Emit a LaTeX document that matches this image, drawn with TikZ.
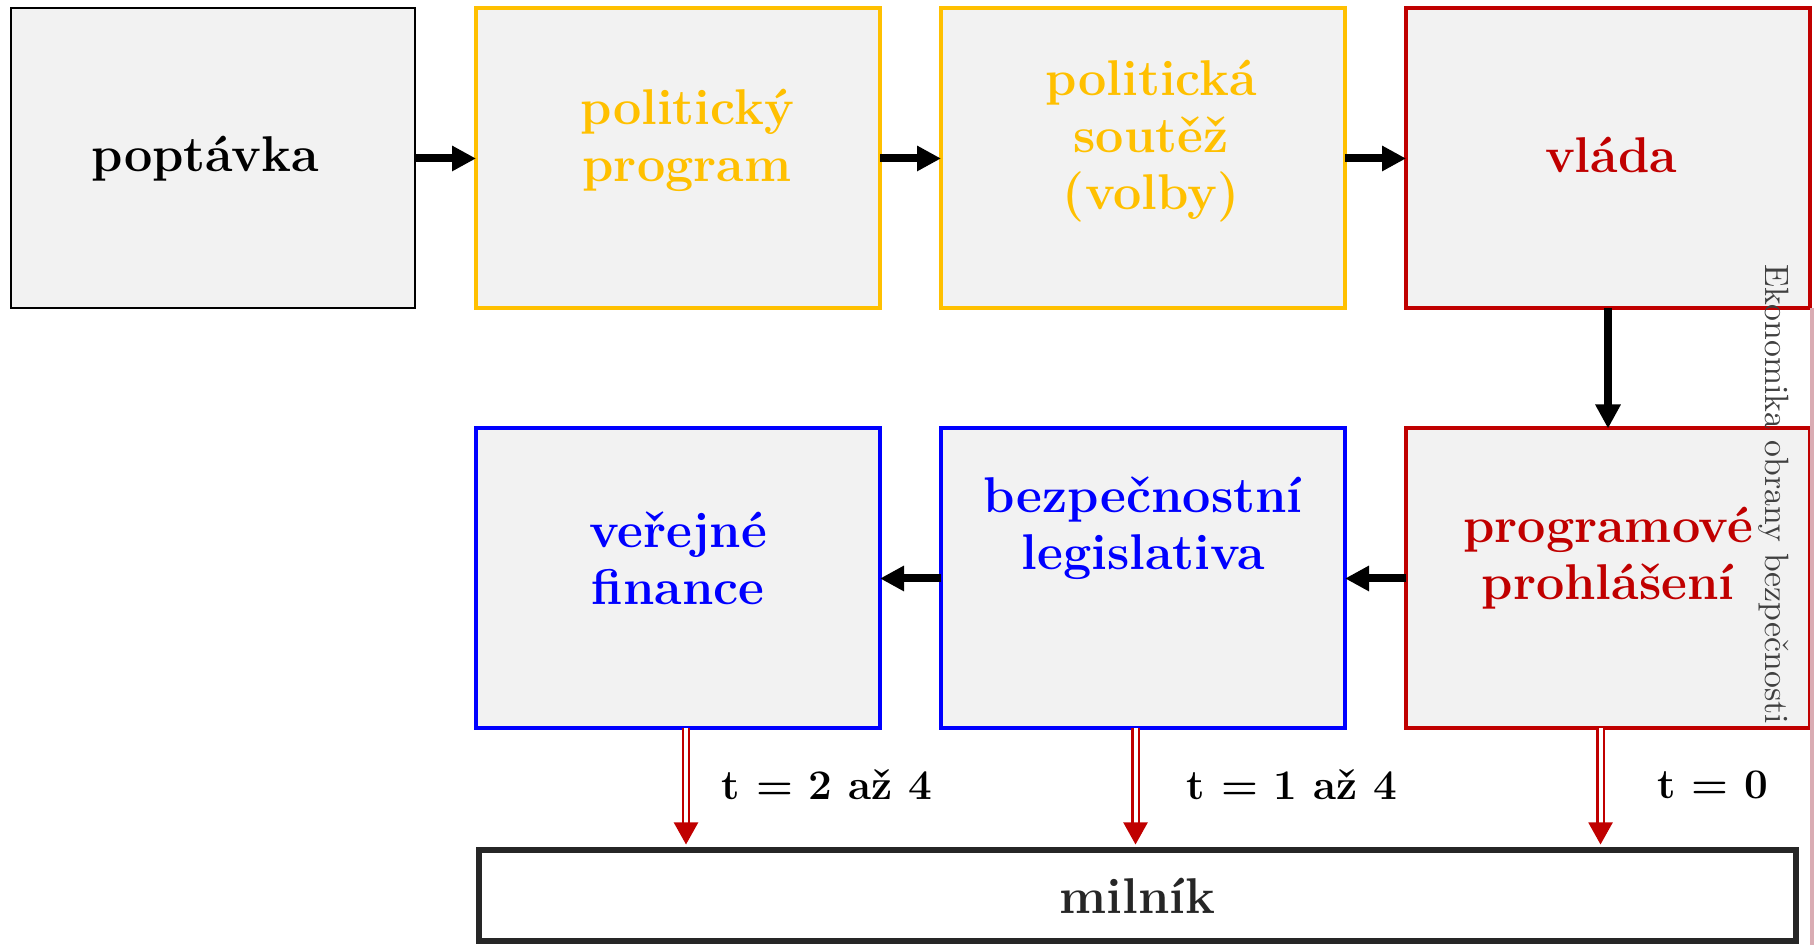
\documentclass[tikz,border=0pt]{standalone}
\usepackage{fontspec}
\usepackage{tikz}
\usetikzlibrary{arrows.meta,positioning}
\definecolor{boxfill}{HTML}{F2F2F2}
\definecolor{gold}{HTML}{FFC000}
\definecolor{dred}{HTML}{C00000}
\definecolor{dgray}{HTML}{262626}
\definecolor{pinkline}{HTML}{D9ACB3}
\tikzstyle{block} = [rectangle, draw, fill=boxfill, line width=0.4mm,
    minimum width=40.4mm, minimum height=30mm, outer sep=0pt]
\tikzstyle{txt} = [align=center, font=\bfseries\fontsize{14.3}{16.2}\selectfont]
\tikzstyle{arr} = [-{Triangle[length=2.4mm,width=2.4mm]}, line width=0.8mm]
\tikzstyle{dbl} = [-{Triangle[length=2.2mm,width=2.4mm]}, draw=dred, shorten >=0.3mm,
    line width=0.22mm, double=white, double distance=0.4mm]
\tikzstyle{tlab} = [font=\bfseries\fontsize{12}{14}\selectfont]

\begin{document}
\begin{tikzpicture}[node distance=6.1mm]
  \useasboundingbox (0,0) rectangle (181.4mm,94.5mm);
  \node[block, line width=0.2mm] (pop) at (21.3mm,78.65mm) {};
  \node[block, draw=gold] (prog) [right=of pop] {};
  \node[block, draw=gold] (sout) [right=of prog] {};
  \node[block, draw=dred] (vlada) [right=of sout] {};
  \node[block, draw=dred] (prohl) [below=12mm of vlada] {};
  \node[block, draw=blue] (leg) [left=of prohl] {};
  \node[block, draw=blue] (fin) [left=of leg] {};
  \node[rectangle, draw=dgray, line width=0.6mm, minimum width=131.7mm, minimum height=9.1mm,
        anchor=north west, txt, text=dgray] (mil) at ([yshift=-11.9mm]fin.south west) {milník};

  \draw[pinkline, line width=0.45mm] ([xshift=0.25mm]vlada.south east) -- ([xshift=0.25mm]vlada.south east |- 0,0);

  \node[txt] (tpop) at ([xshift=-0.8mm]pop.center) {poptávka};
  \node[txt, text=gold] (tprog) at ([xshift=0.9mm,yshift=1.8mm]prog.center) {politický\\program};
  \node[txt, text=gold] (tsout) at ([xshift=0.8mm,yshift=1.75mm]sout.center) {politická\\soutěž\\(volby)};
  \node[txt, text=dred] (tvlada) at ([xshift=0.3mm,yshift=0.4mm]vlada.center) {vláda};
  \node[txt, text=dred] (tprohl) at ([yshift=2mm]prohl.center) {programové\\prohlášení};
  \node[txt, text=blue] (tleg) at ([yshift=5mm]leg.center) {bezpečnostní\\legislativa};
  \node[txt, text=blue] (tfin) at ([yshift=2mm]fin.center) {veřejné\\finance};

  \draw[arr] (pop) -- (prog);
  \draw[arr] (prog) -- (sout);
  \draw[arr] (sout) -- (vlada);
  \draw[arr] (vlada) -- (prohl);
  \draw[arr] (prohl) -- (leg);
  \draw[arr] (leg) -- (fin);

  \draw[dbl] ([xshift=0.8mm]fin.south) -- ([xshift=0.8mm]fin.south |- mil.north);
  \draw[dbl] ([xshift=-0.75mm]leg.south) -- ([xshift=-0.75mm]leg.south |- mil.north);
  \draw[dbl] ([xshift=-0.75mm]prohl.south) -- ([xshift=-0.75mm]prohl.south |- mil.north);

  \node[tlab] (t2) at (82.7mm,16mm) {t = 2 až 4};
  \node[tlab] (t1) at (129.2mm,16mm) {t = 1 až 4};
  \node[tlab] (t0) at (171.3mm,16mm) {t = 0};

  \node[rotate=-90, text=black!75, font=\fontsize{9.6}{11.5}\selectfont] (ekon) at (177.4mm,45.05mm) {Ekonomika obrany bezpečnosti};
\end{tikzpicture}
\end{document}
